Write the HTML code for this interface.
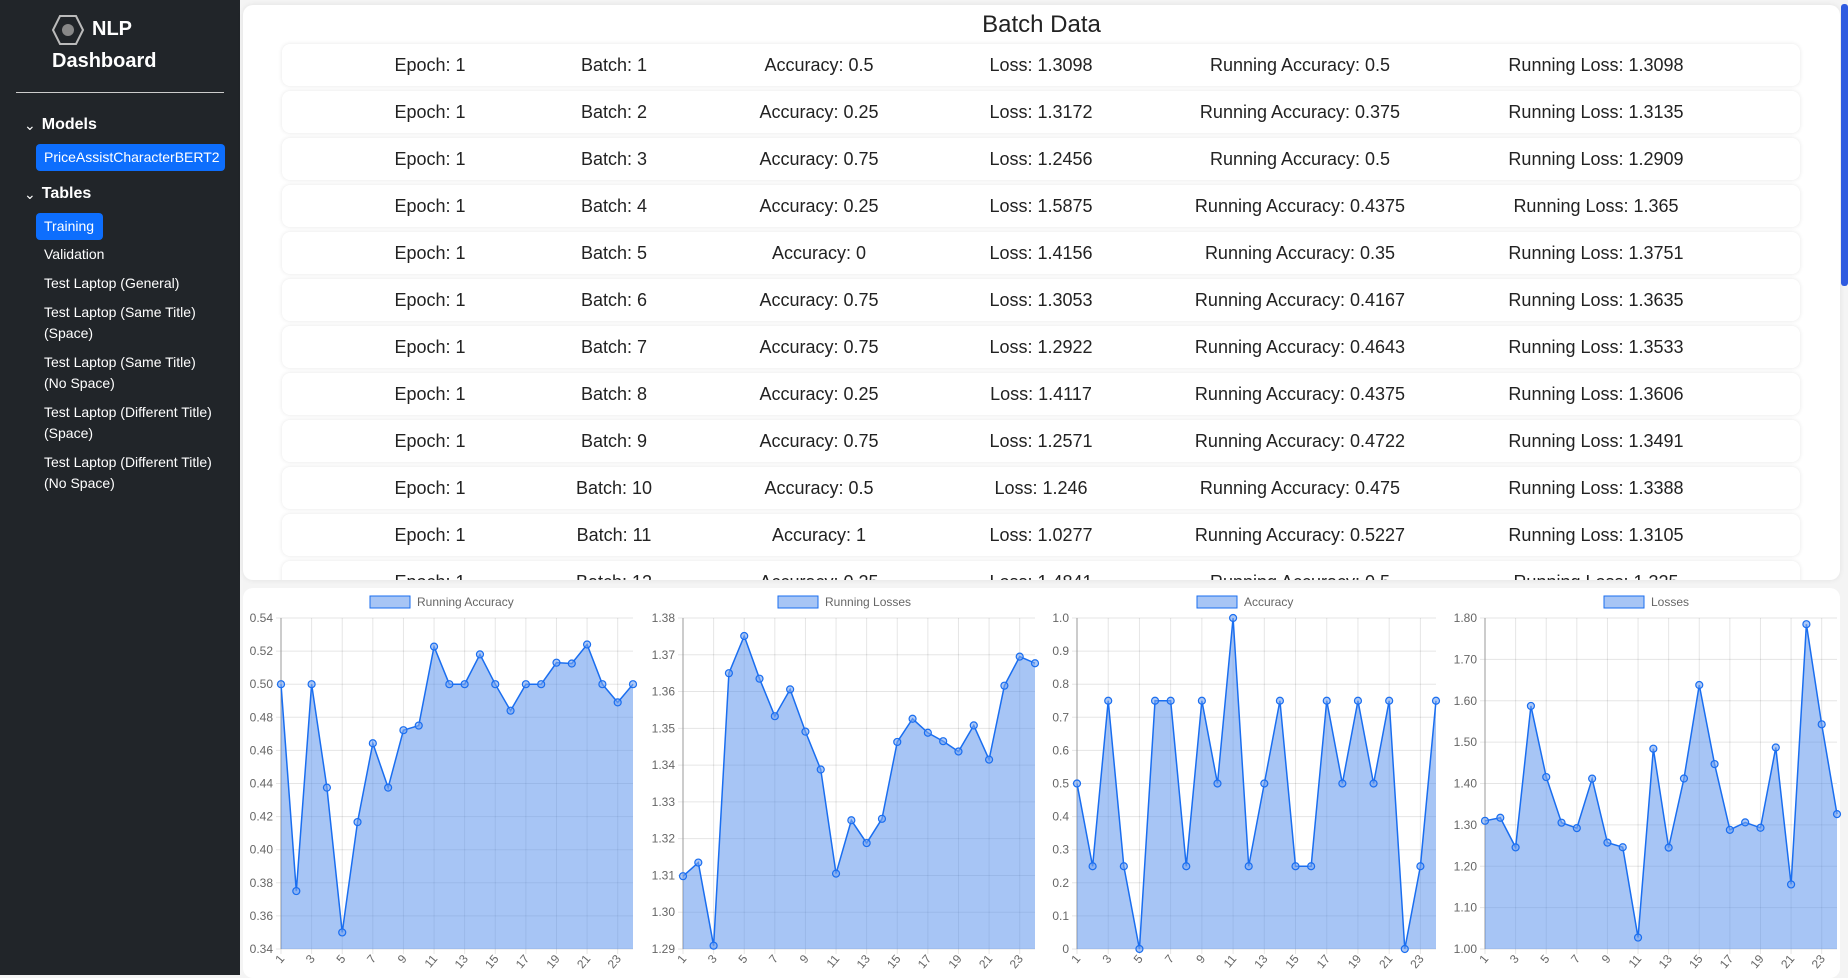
<!DOCTYPE html>
<html><head><meta charset="utf-8"><style>
*{box-sizing:border-box;margin:0;padding:0}
body{width:1848px;height:975px;overflow:hidden;background:#f4f4f4;font-family:"Liberation Sans",sans-serif;position:relative}
#sidebar{position:absolute;left:0;top:0;width:240px;height:975px;background:#212529;color:#fff}
.brand{position:absolute;font-weight:bold;font-size:20px;color:#fff}
.hr{position:absolute;left:16px;top:92px;width:208px;height:1px;background:#ccc}
.sec{position:absolute;left:24px;font-weight:bold;font-size:16px;display:flex;align-items:center;gap:6px}
.btn{position:absolute;left:36px;height:27px;background:#0d6efd;border-radius:4px;font-size:14px;line-height:27px;padding:0 8px;color:#fff}
.lnk{position:absolute;left:44px;font-size:14px;line-height:21px;color:#fff;width:170px}
#table{position:absolute;left:243px;top:5px;width:1597px;height:575px;background:#fff;border-radius:10px;overflow:hidden;box-shadow:0 0 6px rgba(0,0,0,.08)}
#title{position:absolute;top:6px;left:0;width:100%;text-align:center;font-size:24px;color:#222}
.row{position:absolute;left:39px;width:1518px;height:42px;border-radius:8px;box-shadow:0 0 4px rgba(0,0,0,.1);background:#fff}
.cell{position:absolute;top:0;line-height:42px;font-size:18px;color:#222;transform:translateX(-50%);white-space:nowrap}
#scroll{position:absolute;left:1841px;top:4px;width:7px;height:282px;background:#2f5be0;border-radius:3px}
#charts{position:absolute;left:243px;top:588px;width:1597px;height:390px;background:#fff;border-radius:10px}
svg text{font-family:"Liberation Sans",sans-serif}
</style></head><body>
<div id="sidebar">
<svg style="position:absolute;left:51px;top:14px" width="34" height="32" viewBox="0 0 34 32"><polygon points="9,2 25,2 32,16 25,30 9,30 2,16" fill="none" stroke="#bbb" stroke-width="2"/><circle cx="17" cy="16" r="6" fill="#888"/></svg>
<div class="brand" style="left:92px;top:18px">NLP</div>
<div class="brand" style="left:52px;top:50px">Dashboard</div>
<div class="hr"></div>
<div class="sec" style="top:116px"><span style="font-size:14px;font-weight:normal">&#8964;</span>Models</div>
<div class="btn" style="top:144px;width:189px">PriceAssistCharacterBERT2</div>
<div class="sec" style="top:185px"><span style="font-size:14px;font-weight:normal">&#8964;</span>Tables</div>
<div class="btn" style="top:213px;width:67px">Training</div>
<div class="lnk" style="top:244px">Validation</div>
<div class="lnk" style="top:273px">Test Laptop (General)</div>
<div class="lnk" style="top:302px">Test Laptop (Same Title) (Space)</div>
<div class="lnk" style="top:352px">Test Laptop (Same Title) (No Space)</div>
<div class="lnk" style="top:402px">Test Laptop (Different Title) (Space)</div>
<div class="lnk" style="top:452px">Test Laptop (Different Title) (No Space)</div>
</div>
<div id="table"><div id="title">Batch Data</div></div>
<div id="scroll"></div>
<div id="charts"></div>
<svg id="svg" style="position:absolute;left:0;top:0" width="1848" height="975"></svg>
<script>
const batches=[1,2,3,4,5,6,7,8,9,10,11,12,13,14,15,16,17,18,19,20,21,22,23,24];
const runAcc=[0.5,0.375,0.5,0.4375,0.35,0.4167,0.4643,0.4375,0.4722,0.475,0.5227,0.5,0.5,0.518,0.5,0.484,0.5,0.5,0.513,0.5125,0.524,0.5,0.489,0.5];
const runLoss=[1.3098,1.3135,1.2909,1.365,1.3751,1.3635,1.3533,1.3606,1.3491,1.3388,1.3105,1.325,1.3188,1.3254,1.3463,1.3526,1.3488,1.3465,1.3437,1.3508,1.3415,1.3616,1.3695,1.3677];
const acc=[0.5,0.25,0.75,0.25,0,0.75,0.75,0.25,0.75,0.5,1,0.25,0.5,0.75,0.25,0.25,0.75,0.5,0.75,0.5,0.75,0,0.25,0.75];
const loss=[1.3098,1.3172,1.2456,1.5875,1.4156,1.3053,1.2922,1.4117,1.2571,1.246,1.0277,1.4841,1.245,1.412,1.638,1.447,1.288,1.306,1.293,1.487,1.156,1.785,1.543,1.326];
const ticksRA=["0.34","0.36","0.38","0.40","0.42","0.44","0.46","0.48","0.50","0.52","0.54"];
const ticksRL=["1.29","1.30","1.31","1.32","1.33","1.34","1.35","1.36","1.37","1.38"];
const ticksA=["0","0.1","0.2","0.3","0.4","0.5","0.6","0.7","0.8","0.9","1.0"];
const ticksL=["1.00","1.10","1.20","1.30","1.40","1.50","1.60","1.70","1.80"];
const rowCenters=[148,332,537,759,1018,1314];
const tbl=document.getElementById('table');
for(let i=0;i<12;i++){
  const r=document.createElement('div');r.className='row';r.style.top=(39+i*47)+'px';
  
  
  const vals=['Epoch: 1','Batch: '+batches[i],'Accuracy: '+acc[i],'Loss: '+loss[i],'Running Accuracy: '+runAcc[i],'Running Loss: '+runLoss[i]];
  vals.forEach((v,j)=>{const c=document.createElement('div');c.className='cell';c.style.left=rowCenters[j]+'px';c.textContent=v;
    
    
    r.appendChild(c);});
  tbl.appendChild(r);
}
const NS='http://www.w3.org/2000/svg',svg=document.getElementById('svg');
function el(t,a,p){const e=document.createElementNS(NS,t);for(const k in a)e.setAttribute(k,a[k]);(p||svg).appendChild(e);return e;}
function chart(name,data,ticks,x0,x1,legendX){
  const y0=618,y1=949,lo=+ticks[0],hi=+ticks[ticks.length-1];
  const g=el('g',{});
  
  
  const X=i=>x0+(x1-x0)*i/(data.length-1),Y=v=>y1-(v-lo)/(hi-lo)*(y1-y0);
  ticks.forEach(t=>{const y=Y(+t);
    el('line',{x1:x0-5,x2:x1,y1:y,y2:y,stroke:'rgba(0,0,0,0.1)'},g);
    const tx=el('text',{x:x0-8,y:y+4,'text-anchor':'end','font-size':12,fill:'#666'},g);tx.textContent=t;
    
    });
  batches.forEach((b,i)=>{if(i%2)return;const x=X(i);
    el('line',{x1:x,x2:x,y1:y0,y2:y1+5,stroke:'rgba(0,0,0,0.1)'},g);
    const tx=el('text',{x:0,y:0,'text-anchor':'end','font-size':12,fill:'#666',transform:`translate(${x+4},${y1+10}) rotate(-50)`},g);tx.textContent=b;
    
    });
  el('line',{x1:x0,x2:x0,y1:y0,y2:y1,stroke:'#999'},g);
  let d='';data.forEach((v,i)=>{d+=(i?'L':'M')+X(i)+','+Y(v);});
  const area=el('path',{d:d+`L${X(data.length-1)},${y1}L${x0},${y1}Z`,fill:'rgba(80,140,235,0.5)'},g);
  
  
  const ln=el('path',{d:d,fill:'none',stroke:'#1a6ef0','stroke-width':1.5},g);
  
  
  data.forEach((v,i)=>{const c=el('circle',{cx:X(i),cy:Y(v),r:3.5,fill:'rgba(120,165,240,0.6)',stroke:'#1a6ef0','stroke-width':1.2},g);
    
    });
  const lb=el('rect',{x:legendX,y:596,width:40,height:12,fill:'rgba(80,140,235,0.5)',stroke:'#1a6ef0','stroke-width':1},g);
  
  
  const lt=el('text',{x:legendX+47,y:606,'font-size':12,fill:'#666'},g);lt.textContent=name;
  
  
}
chart('Running Accuracy',runAcc,ticksRA,281,633,370);
chart('Running Losses',runLoss,ticksRL,683,1035,778);
chart('Accuracy',acc,ticksA,1077,1436,1197);
chart('Losses',loss,ticksL,1485,1837,1604);
</script>
</body></html>
